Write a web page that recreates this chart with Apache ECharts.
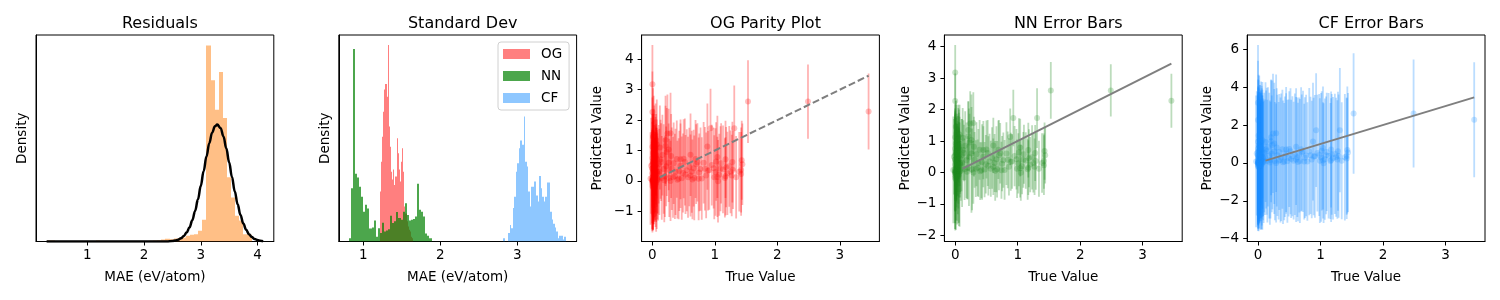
<!DOCTYPE html>
<html><head><meta charset="utf-8">
<script src="https://cdn.jsdelivr.net/npm/echarts@6/dist/echarts.min.js"></script>
<style>html,body{margin:0;padding:0;background:#fff}#c{width:1500px;height:300px}</style>
</head><body><div id="c"></div>
<script>
// ---------- Panel 1: residual histogram (density) + normal fit ----------
const residBinStart = 0.28, residBinWidth = 0.0723;
const residDensity = [0.015,0.015,0,0,0,0,0,0,0,0, 0,0,0.015,0,0,0,0,0,0,0,
  0,0,0,0.005,0.005,0.01,0.014,0.019,0.029,0.038, 0.034,0.043,0.048,0.057,0.081,0.096,0.105,0.153,0.31,2.81,
  2.31,1.89,2.43,1.77,0.92,0.63,0.37,0.30,0.105,0.096];
const curveX = [0.28,1.0,1.8,2.2,2.4,2.5,2.55,2.6,2.65,2.7,2.75,2.8,2.85,2.9,2.95,3.0,3.05,3.1,3.15,3.2,3.25,3.29,3.35,3.4,3.45,3.5,3.55,3.6,3.65,3.7,3.75,3.8,3.85,3.9,3.95,4.0,4.05,4.1];
const curveY = [0,0,0,0.0001,0.0015,0.0068,0.0133,0.025,0.045,0.078,0.128,0.201,0.303,0.438,0.604,0.798,1.008,1.219,1.410,1.560,1.652,1.676,1.624,1.506,1.337,1.136,0.923,0.717,0.534,0.380,0.259,0.169,0.105,0.063,0.036,0.020,0.010,0.005];

// ---------- Panel 2: standard deviation histograms (density) ----------
const ogBinStart = 1.216, ogBinWidth = 0.01443;
const ogDensity = [1.54,2.46,3.23,4.00,4.68,4.85,4.46,6.05,3.54,2.92,2.15,1.91,2.22,1.74,2.00,3.18,2.72,2.22,1.85,2.46,2.87,2.15,1.08,0.86,0.62,0.46,0.36,0.31,0.15,0.10];
const nnBinStart = 0.813, nnBinWidth = 0.02685;
const nnDensity = [0.10,1.64,5.93,2.09,1.97,1.69,1.38,0.92,1.13,1.02,0.40,0.43,0.65,0.15,0.41,0.26,0.58,0.31,0.34,0.38,0.79,0.57,0.62,0.91,0.72,0.67,0.92,1.18,0.82,0.65,0.67,0.69,0.77,1.78,0.98,0.92,0.77,0.25,0.18,0.10];
const cfBinStart = 2.818, cfBinWidth = 0.02025;
const cfDensity = [0.10,0,0,0.26,0.51,0.41,1.03,1.38,2.15,2.41,2.87,3.11,2.98,3.85,2.46,2.31,1.54,1.08,1.69,1.69,1.85,1.42,1.23,2.02,1.64,1.38,1.23,1.38,1.82,1.82,0.92,0.68,0.55,0.43,0.31,0.10,0.18,0.18,0.06,0.15];

// ---------- Panels 3-5: true vs predicted with per-model std ----------
const trueVals = [0.00,0.00,0.01,0.02,0.00,0.03,0.01,0.02,0.00,0.04, 0.01,0.00,0.03,0.00,0.02,0.01,0.04,0.00,0.01,0.02,
  0.03,0.00,0.01,0.04,0.00,0.02,0.01,0.00,0.03,0.01, 0.00,0.02,0.00,0.01,0.03,0.00,0.02,0.01,0.00,0.01, 0.04,0.00,0.02,0.01,0.03,
  0.05,0.06,0.07,0.08,0.05,0.06,0.07,0.05,0.06,0.08, 0.07,0.05,0.06,-0.02,-0.03,
  3.46,2.49,1.53,1.31,0.93,0.29,0.24,0.21,0.21,0.30, 0.45,0.61,0.72,0.88,1.04,1.17,1.28,1.43,1.42,1.42,
  1.27,1.17,1.04,1.05,1.01,0.89,0.77,0.66,0.61,0.53, 0.45,0.42,0.40,0.29,0.74,0.18,0.13,0.26,0.08,0.10,
  0.15,0.33,0.37,0.50,0.55,0.64,0.69,0.84,0.98,1.09, 1.18,1.25,0.05,0.06,0.20,0.26,0.12,
  0.07,0.09,0.11,0.14,0.16,0.19,0.22,0.23,0.27,0.31, 0.34,0.36,0.39,0.43,0.47,0.49,0.52,0.57,0.59,0.63,
  0.67,0.70,0.75,0.79,0.82,0.86,0.91,0.95,0.99,1.02, 1.07,1.10,1.13,1.16,1.20,1.23,1.29,1.34,1.39,1.44];
const predVals = [3.18,2.27,1.45,1.25,1.12,1.00,0.92,0.85,0.75,0.68, 0.60,0.55,0.48,0.42,0.38,0.33,0.28,0.25,0.20,0.17,
  0.14,0.11,0.09,0.07,0.05,0.04,0.03,0.02,0.01,0.00, 0.00,-0.01,-0.02,-0.04,-0.06,-0.08,-0.10,-0.13,-0.17,-0.22, 0.12,0.40,0.30,0.65,0.90,
  0.15,0.55,0.02,0.30,1.05,-0.05,0.72,0.40,0.20,0.10, 1.20,-0.12,0.85,0.50,0.08,
  2.28,2.61,2.61,1.73,1.73,1.57,1.56,1.35,1.15,0.82, 0.71,0.86,0.61,1.13,0.79,0.71,0.62,0.68,0.36,0.23,
  0.18,0.15,0.13,-0.01,0.29,0.34,0.39,0.42,0.18,0.21, 0.50,0.07,0.04,0.00,0.07,0.39,0.71,1.03,0.25,0.55,
  0.10,0.12,0.30,0.73,0.35,0.05,0.72,0.40,0.42,0.40, 0.45,0.30,0.80,0.30,0.15,0.60,1.10,
  0.45,0.05,0.30,0.62,0.85,0.02,0.48,0.95,0.10,0.40, 0.58,0.15,0.72,0.33,0.09,0.26,0.62,0.12,0.46,0.30,
  0.10,0.55,0.28,0.08,0.60,0.18,0.35,0.52,0.12,0.64, 0.20,0.58,0.38,0.10,0.25,0.48,0.36,0.12,0.30,0.55];
const ogStd = [1.29,1.33,1.60,1.55,1.62,1.48,1.30,1.52,1.45,1.34, 1.58,1.40,1.36,1.31,1.27,1.65,1.33,1.42,1.29,1.38,
  1.24,1.50,1.32,1.35,1.63,1.28,1.46,1.60,1.34,1.30, 1.65,1.41,1.37,1.56,1.29,1.62,1.33,1.48,1.45,1.40, 1.31,1.52,1.36,1.44,1.30,
  1.45,1.33,1.60,1.38,1.50,1.62,1.30,1.42,1.55,1.36, 1.48,1.40,1.35,1.58,1.52,
  1.25,1.22,1.36,1.41,1.30,1.33,1.28,1.45,1.32,1.38, 1.31,1.36,1.29,1.42,1.35,1.27,1.33,1.30,1.40,1.38,
  1.34,1.29,1.32,1.36,1.44,1.31,1.37,1.26,1.35,1.30, 1.39,1.33,1.28,1.32,1.36,1.47,1.30,1.34,1.31,1.29,
  1.38,1.33,1.42,1.30,1.35,1.31,1.28,1.37,1.33,1.40, 1.32,1.36,1.30,1.45,1.34,1.29,1.38,
  1.30,1.35,1.42,1.28,1.33,1.38,1.31,1.45,1.29,1.36, 1.34,1.40,1.27,1.32,1.37,1.30,1.43,1.33,1.29,1.35,
  1.39,1.31,1.28,1.36,1.34,1.41,1.30,1.33,1.38,1.29, 1.35,1.32,1.44,1.30,1.37,1.33,1.28,1.36,1.31,1.34];
const nnStd = [0.87,0.88,0.86,0.90,1.05,0.87,1.35,0.89,1.20,0.95, 0.87,1.45,0.88,1.62,0.86,1.10,0.90,1.50,0.87,1.28,
  0.88,1.72,0.86,1.40,1.85,0.89,1.25,0.87,1.55,0.90, 1.85,0.88,1.78,0.87,1.60,1.15,0.86,1.70,1.45,1.30, 0.88,0.95,1.02,0.87,0.89,
  1.30,0.88,1.75,0.92,1.10,1.65,0.87,1.40,1.80,0.90, 0.95,1.50,1.05,1.20,1.70,
  0.86,0.83,0.90,0.95,0.90,0.98,1.02,0.92,1.10,0.95, 0.93,0.88,0.96,0.90,0.92,0.87,0.89,0.91,0.88,0.95,
  0.90,0.87,0.93,0.89,0.96,0.92,0.88,1.05,0.90,0.94, 0.97,0.89,0.92,1.00,0.91,1.20,0.95,1.05,0.93,1.15,
  0.98,0.90,1.08,0.92,0.88,0.95,0.93,0.90,0.96,0.89, 0.92,0.94,1.25,1.10,1.00,1.88,0.95,
  0.88,0.95,1.40,0.90,1.10,0.87,1.55,0.92,1.30,0.89, 1.02,0.90,0.95,1.20,0.88,0.93,1.05,0.89,0.98,0.92,
  0.90,1.12,0.88,0.95,1.00,0.91,0.87,0.96,0.93,1.08, 0.89,0.94,0.90,0.97,0.88,1.02,0.91,0.89,0.95,0.90];
const cfStd = [3.05,3.12,3.20,3.35,3.28,3.10,3.45,3.08,3.30,3.15, 3.40,3.02,3.22,3.55,3.11,3.18,3.07,3.48,3.25,3.13,
  3.09,3.38,3.04,3.60,3.16,3.10,3.32,3.62,3.06,3.14, 3.50,3.20,3.42,3.12,3.08,3.26,3.35,3.48,3.10,3.28, 3.03,3.17,3.45,3.09,3.21,
  3.20,3.40,3.55,3.10,3.25,3.45,3.15,3.30,3.50,3.12, 3.08,3.38,3.22,3.28,3.48,
  3.03,2.85,3.18,3.28,3.00,3.10,3.15,3.05,3.22,3.12, 3.30,3.08,3.20,3.11,3.25,3.06,3.14,3.35,3.09,3.19,
  3.13,3.27,3.07,3.16,3.40,3.10,3.21,3.04,3.30,3.12, 3.18,3.09,3.26,3.14,3.05,3.32,3.11,3.20,3.08,3.15,
  3.24,3.10,3.36,3.06,3.17,3.13,3.28,3.09,3.22,3.11, 3.19,3.14,3.02,3.25,3.08,3.30,3.16,
  3.10,3.22,3.05,3.35,3.15,3.28,3.08,3.40,3.12,3.20, 3.06,3.30,3.14,3.18,3.25,3.09,3.33,3.11,3.21,3.16,
  3.27,3.07,3.19,3.13,3.36,3.10,3.24,3.08,3.29,3.15, 3.20,3.12,3.31,3.06,3.23,3.17,3.26,3.09,3.34,3.14];
const parityX = [0.12, 3.46];

// ---------- Texts / ticks ----------
const titles = ['Residuals', 'Standard Dev', 'OG Parity Plot', 'NN Error Bars', 'CF Error Bars'];
const xNames = ['MAE (eV/atom)', 'MAE (eV/atom)', 'True Value', 'True Value', 'True Value'];
const yNames = ['Density', 'Density', 'Predicted Value', 'Predicted Value', 'Predicted Value'];
const legendNames = ['OG', 'NN', 'CF'];
const xTicks = [[1,2,3,4],[1,2,3],[0,1,2,3],[0,1,2,3],[0,1,2,3]];
const yTicks = [[],[],[-1,0,1,2,3,4],[-2,-1,0,1,2,3,4],[-4,-2,0,2,4,6]];
const xRanges = [[0.093,4.288],[0.683,3.77],[-0.173,3.633],[-0.173,3.633],[-0.173,3.633]];
const yRanges = [[0,2.96],[0,6.36],[-1.993,4.80],[-2.197,4.372],[-4.148,6.755]];

// ---------- layout ----------
const FONT = 'DejaVu Sans';
const FS = 13.5;
const gridLeft = [36, 338.8, 641.6, 944.4, 1247.2];
const GW = 237.8, GT = 35, GH = 206.5;
const yNameGap = [6.5, 6.5, 37.5, 32, 33];

const fmt = v => (v < 0 ? '\u2212' + Math.abs(v) : String(v));

const grids = gridLeft.map(l => ({left: l, top: GT, width: GW, height: GH, show: true,
  borderColor: '#000', borderWidth: 1, backgroundColor: 'transparent', containLabel: false}));

const xAxes = xRanges.map((r, i) => ({
  type: 'value', gridIndex: i, min: r[0], max: r[1],
  axisLine: {show: true, onZero: false, lineStyle: {color: '#000', width: 1}},
  axisTick: {show: true, inside: false, length: 4, lineStyle: {color: '#000', width: 1}, customValues: xTicks[i]},
  axisLabel: {show: true, customValues: xTicks[i], color: '#000', fontSize: FS, fontFamily: FONT, margin: 7, formatter: fmt},
  splitLine: {show: false},
  name: xNames[i], nameLocation: 'middle', nameGap: 29,
  nameTextStyle: {color: '#000', fontSize: FS, fontFamily: FONT}
}));
const yAxes = yRanges.map((r, i) => ({
  type: 'value', gridIndex: i, min: r[0], max: r[1],
  axisLine: {show: true, onZero: false, lineStyle: {color: '#000', width: 1}},
  axisTick: {show: yTicks[i].length > 0, inside: false, length: 4, lineStyle: {color: '#000', width: 1}, customValues: yTicks[i]},
  axisLabel: {show: yTicks[i].length > 0, customValues: yTicks[i], color: '#000', fontSize: FS, fontFamily: FONT, margin: 8, formatter: fmt},
  splitLine: {show: false},
  name: yNames[i], nameLocation: 'middle', nameGap: yNameGap[i], nameRotate: 90,
  nameTextStyle: {color: '#000', fontSize: FS, fontFamily: FONT}
}));

function histSeries(name, start, width, heights, color, gi) {
  return {
    type: 'custom', name: name, xAxisIndex: gi, yAxisIndex: gi, clip: true, silent: true,
    itemStyle: {color: color},
    encode: {x: [0, 1], y: 2},
    data: heights.map((h, i) => [start + i * width, start + (i + 1) * width, h]),
    renderItem: (params, api) => {
      const p0 = api.coord([api.value(0), 0]);
      const p1 = api.coord([api.value(1), api.value(2)]);
      const x0 = Math.round(p0[0]), x1 = Math.round(p1[0]);
      return {type: 'rect', shape: {x: x0, y: p1[1], width: Math.max(1, x1 - x0), height: p0[1] - p1[1]},
        style: {fill: color}};
    }
  };
}
function errSeries(name, stds, color, gi) {
  return {
    type: 'custom', name: name, xAxisIndex: gi, yAxisIndex: gi, clip: true, silent: true,
    encode: {x: 0, y: 1},
    data: trueVals.map((x, i) => [x, predVals[i], stds[i]]),
    renderItem: (params, api) => {
      const x = api.value(0), y = api.value(1), e = api.value(2);
      const a = api.coord([x, y - e]), b = api.coord([x, y + e]);
      return {type: 'line', shape: {x1: a[0], y1: a[1], x2: b[0], y2: b[1]},
        style: {stroke: color, lineWidth: 1.8}};
    }
  };
}
function markerSeries(name, color, gi) {
  return {type: 'scatter', name: name, xAxisIndex: gi, yAxisIndex: gi, silent: true,
    symbol: 'circle', symbolSize: 6, itemStyle: {color: color},
    data: trueVals.map((x, i) => [x, predVals[i]])};
}
function parity(name, gi, dashed) {
  return {type: 'line', name: name, xAxisIndex: gi, yAxisIndex: gi, silent: true, symbol: 'none',
    lineStyle: {color: '#7f7f7f', width: 2, type: dashed ? [7, 3] : 'solid'},
    data: parityX.map(v => [v, v]), z: 5};
}

const series = [
  histSeries('Residuals', residBinStart, residBinWidth, residDensity, 'rgba(255,127,14,0.5)', 0),
  {type: 'line', name: 'Normal', xAxisIndex: 0, yAxisIndex: 0, silent: true, symbol: 'none',
   smooth: 0.4, smoothMonotone: 'x', lineStyle: {color: '#000', width: 2.5},
   data: curveX.map((x, i) => [x, curveY[i]])},
  histSeries(legendNames[0], ogBinStart, ogBinWidth, ogDensity, 'rgba(255,0,0,0.5)', 1),
  histSeries(legendNames[1], nnBinStart, nnBinWidth, nnDensity, 'rgba(0,128,0,0.7)', 1),
  histSeries(legendNames[2], cfBinStart, cfBinWidth, cfDensity, 'rgba(30,144,255,0.5)', 1),
  errSeries('OG bars', ogStd, 'rgba(255,0,0,0.3)', 2),
  markerSeries('OG pts', 'rgba(255,0,0,0.3)', 2),
  parity('OG line', 2, true),
  errSeries('NN bars', nnStd, 'rgba(34,139,34,0.3)', 3),
  markerSeries('NN pts', 'rgba(34,139,34,0.3)', 3),
  parity('NN line', 3, false),
  errSeries('CF bars', cfStd, 'rgba(30,144,255,0.3)', 4),
  markerSeries('CF pts', 'rgba(30,144,255,0.3)', 4),
  parity('CF line', 4, false)
];

const chart = echarts.init(document.getElementById('c'), null, {renderer: 'canvas'});
chart.setOption({
  animation: false,
  backgroundColor: '#fff',
  title: titles.map((t, i) => ({text: t, left: gridLeft[i] + GW / 2, top: 11, textAlign: 'center',
    textStyle: {fontSize: 16, fontWeight: 'normal', color: '#000', fontFamily: FONT}})),
  legend: {data: legendNames, orient: 'vertical', left: 498, top: 42, icon: 'rect',
    itemWidth: 27, itemHeight: 10, itemGap: 8, padding: [5, 7, 5, 5],
    backgroundColor: '#fff', borderColor: '#d0d0d0', borderWidth: 1, borderRadius: 3,
    textStyle: {fontSize: FS, fontFamily: FONT, color: '#000', padding: [0, 0, 0, 6]}, selectedMode: false},
  grid: grids, xAxis: xAxes, yAxis: yAxes, series: series
});
</script></body></html>
